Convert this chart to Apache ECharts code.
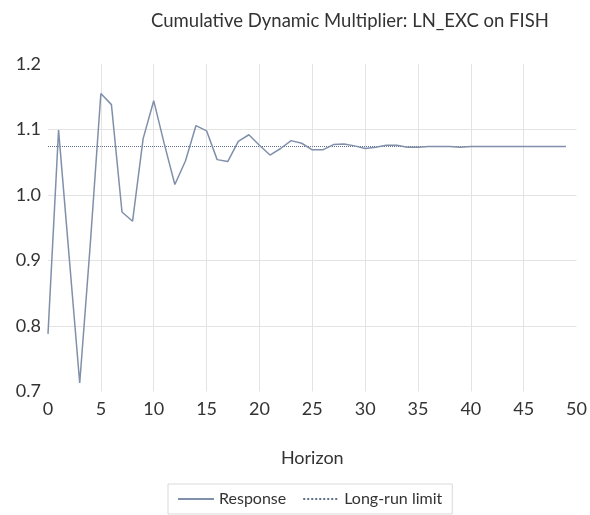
<!DOCTYPE html>
<html><head><meta charset="utf-8">
<script src="https://cdn.jsdelivr.net/npm/echarts@6/dist/echarts.min.js"></script>
<style>html,body{margin:0;padding:0;background:#fff}#c{width:590px;height:515px}</style>
</head><body><div id="c"></div>
<script>
const titleText = 'Cumulative Dynamic Multiplier: LN_EXC on FISH';
const xAxisName = 'Horizon';
const seriesNames = ['Response', 'Long-run limit'];
const horizons = [0,1,2,3,4,5,6,7,8,9,10,11,12,13,14,15,16,17,18,19,20,21,22,23,24,25,26,27,28,29,30,31,32,33,34,35,36,37,38,39,40,41,42,43,44,45,46,47,48,49];
const response = [0.788,1.099,0.906,0.713,0.925,1.155,1.138,0.974,0.960,1.086,
                  1.144,1.078,1.016,1.052,1.106,1.098,1.054,1.051,1.082,1.092,
                  1.076,1.061,1.071,1.083,1.079,1.069,1.069,1.077,1.078,1.075,
                  1.071,1.073,1.076,1.076,1.073,1.073,1.074,1.074,1.074,1.073,
                  1.074,1.074,1.074,1.074,1.074,1.074,1.074,1.074,1.074,1.074];
const longRunLimit = 1.074;
const xTicks = [0,5,10,15,20,25,30,35,40,45,50];
const yTicks = [0.7,0.8,0.9,1.0,1.1,1.2];

const font = 'Lato';
const textColor = '#333333';
const chart = echarts.init(document.getElementById('c'), null, {renderer:'canvas'});
chart.setOption({
  animation:false,
  backgroundColor:'#fff',
  textStyle:{fontFamily:font},
  title:{text:titleText,left:345,top:7,textAlign:'center',
    textStyle:{fontFamily:font,fontSize:18.5,fontWeight:'normal',color:textColor}},
  grid:{left:48,right:12,top:64,bottom:123.5,containLabel:false},
  legend:{show:true,left:168,top:484,padding:[7,10,7,9],itemGap:16,itemWidth:36,itemHeight:14,
    borderColor:'#d9d9d9',borderWidth:1,
    itemStyle:{opacity:0},
    textStyle:{fontFamily:font,fontSize:16,color:textColor},
    data:seriesNames},
  xAxis:{type:'value',min:xTicks[0],max:xTicks[xTicks.length-1],interval:5,
    name:xAxisName,nameLocation:'middle',nameGap:58,
    nameTextStyle:{fontFamily:font,fontSize:18,color:textColor},
    axisLine:{show:false},axisTick:{show:false},
    axisLabel:{fontFamily:font,fontSize:18,color:textColor,margin:9},
    splitLine:{show:true,showMinLine:false,showMaxLine:false,lineStyle:{color:'#e3e3e3',width:1}}},
  yAxis:{type:'value',min:yTicks[0],max:yTicks[yTicks.length-1],interval:0.1,
    axisLine:{show:false},axisTick:{show:false},
    axisLabel:{fontFamily:font,fontSize:18,color:textColor,margin:7,formatter:v=>v.toFixed(1)},
    splitLine:{show:true,showMinLine:false,showMaxLine:false,lineStyle:{color:'#e3e3e3',width:1}}},
  series:[
    {name:seriesNames[0],type:'line',symbol:'none',showSymbol:false,
     data:horizons.map((h,i)=>[h,response[i]]),
     lineStyle:{color:'#8190aa',width:1.5},itemStyle:{color:'#8190aa'},z:3},
    {name:seriesNames[1],type:'line',symbol:'none',showSymbol:false,
     data:horizons.map(h=>[h,longRunLimit]),
     lineStyle:{color:'#5f6f8a',width:1,type:'dotted'},itemStyle:{color:'#5f6f8a'},z:2}
  ]
});
</script></body></html>
